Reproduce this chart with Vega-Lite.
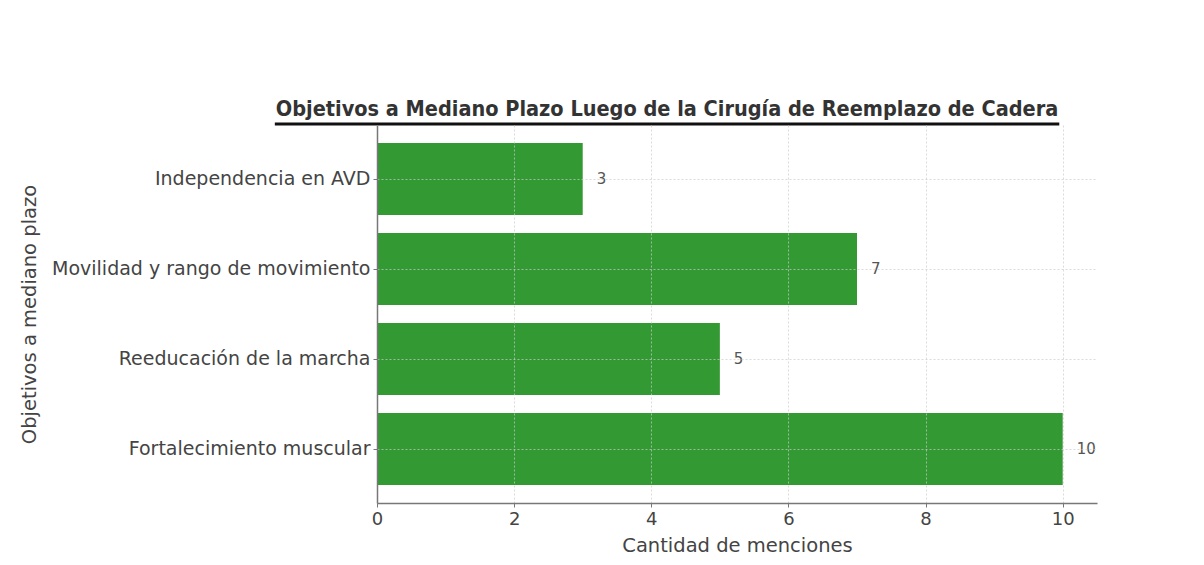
{
  "$schema": "https://vega.github.io/schema/vega-lite/v6.json",
  "width": 720,
  "height": 378,
  "autosize": {"type": "none"},
  "padding": {"left": 377, "top": 125, "right": 107, "bottom": 62},
  "background": "white",
  "config": {
    "font": "DejaVu Sans",
    "view": {"stroke": null}
  },
  "title": {
    "text": "Objetivos a Mediano Plazo Luego de la Cirugía de Reemplazo de Cadera",
    "font": "DejaVu Sans Condensed",
    "fontWeight": "bold",
    "fontSize": 21.5,
    "limit": 0,
    "color": "#333333",
    "anchor": "middle",
    "frame": "group",
    "dx": -70,
    "offset": 2
  },
  "data": {
    "values": [
      {"objetivo": "Independencia en AVD", "menciones": 3},
      {"objetivo": "Movilidad y rango de movimiento", "menciones": 7},
      {"objetivo": "Reeducación de la marcha", "menciones": 5},
      {"objetivo": "Fortalecimiento muscular", "menciones": 10}
    ]
  },
  "layer": [
    {
      "mark": {"type": "bar", "color": "#339933"},
      "encoding": {
        "y": {
          "field": "objetivo",
          "type": "nominal",
          "sort": null,
          "scale": {"paddingInner": 0.2, "paddingOuter": 0.2},
          "axis": {
            "title": "Objetivos a mediano plazo",
            "titleFont": "DejaVu Sans",
            "titleFontSize": 19.5,
            "titleFontWeight": "normal",
            "titleColor": "#444444",
            "titleX": -338,
            "titleBaseline": "bottom",
            "labelFontSize": 19,
            "labelLimit": 400,
            "labelColor": "#444444",
            "labelPadding": 3,
            "tickSize": 4,
            "tickColor": "#777777",
            "domainColor": "#777777",
            "domainWidth": 1.5,
            "bandPosition": 0.5,
            "grid": true,
            "gridColor": "#cccccc",
            "gridDash": [2, 2],
            "gridOpacity": 0.7,
            "zindex": 1
          }
        },
        "x": {
          "field": "menciones",
          "type": "quantitative",
          "scale": {"domain": [0, 10.5], "nice": false},
          "axis": {
            "title": "Cantidad de menciones",
            "titleFontSize": 19.5,
            "titleFontWeight": "normal",
            "titleColor": "#444444",
            "titlePadding": 8,
            "values": [0, 2, 4, 6, 8, 10],
            "format": "d",
            "labelFlush": false,
            "labelFontSize": 18,
            "labelColor": "#444444",
            "labelPadding": 3,
            "tickSize": 4,
            "tickColor": "#777777",
            "domainColor": "#777777",
            "domainWidth": 1.5,
            "grid": true,
            "gridColor": "#cccccc",
            "gridDash": [2, 2],
            "gridOpacity": 0.7,
            "zindex": 1
          }
        }
      }
    },
    {
      "mark": {"type": "text", "align": "left", "baseline": "middle", "dx": 14, "fontSize": 15, "color": "#555555"},
      "encoding": {
        "y": {"field": "objetivo", "type": "nominal", "sort": null},
        "x": {"field": "menciones", "type": "quantitative"},
        "text": {"field": "menciones", "type": "quantitative"}
      }
    },
    {
      "data": {"values": [{"desde": -1.49, "hasta": 9.95}]},
      "mark": {"type": "rule", "color": "#111111", "strokeWidth": 3, "clip": false},
      "encoding": {
        "x": {"field": "desde", "type": "quantitative"},
        "x2": {"field": "hasta"},
        "y": {"value": -1}
      }
    }
  ]
}
